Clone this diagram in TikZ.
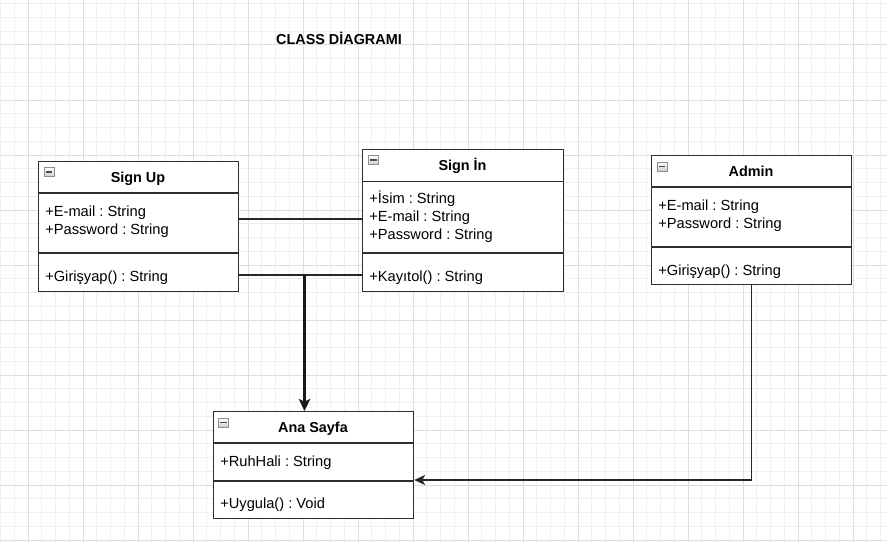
\documentclass[tikz,border=0pt]{standalone}
\usepackage{fontspec}
\setmainfont{Liberation Sans}
\usetikzlibrary{arrows.meta}
\definecolor{gridminor}{HTML}{F0F0F0}
\definecolor{gridmajor}{HTML}{DEDEDE}
\definecolor{boxline}{HTML}{2E2E2E}
\definecolor{iconfill}{HTML}{C9CDD4}
\definecolor{iconedge}{HTML}{8A8F96}
\frenchspacing
\begin{document}
\begin{tikzpicture}[x=0.75pt,y=-0.75pt,
  font=\fontsize{11}{13}\selectfont,
  classbox/.style 2 args={draw=boxline, line width=1pt, fill=white, anchor=north west,
     inner sep=0pt, minimum width=#1*0.75pt, minimum height=#2*0.75pt},
  sepline/.style={draw=boxline, line width=1pt},
  title/.style={font=\fontsize{10.8}{13}\selectfont\bfseries, anchor=base, inner sep=0pt},
  member/.style={anchor=base west, inner sep=0pt},
  iconbox/.style={draw=iconedge, line width=0.6pt, top color=white, bottom color=iconfill,
     anchor=north west, inner sep=0pt, minimum width=7.5pt, minimum height=7pt,
     path picture={\draw[black!70, line width=1.1pt]
       ([xshift=1.2pt]path picture bounding box.west) -- ([xshift=-1.2pt]path picture bounding box.east);}},
  conn/.style={draw=black!85, line width=1.05pt},
  bigarrow/.style={draw=black!90, line width=2.2pt, -{Stealth[length=9pt,width=8.5pt,inset=2pt]}},
  arr/.style={-{Stealth[length=8pt,width=7.5pt,inset=2pt]}}
]
\useasboundingbox (0,0) rectangle (887,542);
\fill[white] (0,0) rectangle (887,542);
% grid
\foreach \i in {0,...,64} {\draw[gridminor, line width=0.75pt] ({0.5+13.75*\i},0) -- ({0.5+13.75*\i},542);}
\foreach \j in {0,...,39} {\draw[gridminor, line width=0.75pt] (0,{3.75+13.75*\j}) -- (887,{3.75+13.75*\j});}
\foreach \i in {0,...,15} {\draw[gridmajor, line width=0.75pt] ({28+55*\i},0) -- ({28+55*\i},542);}
\foreach \j in {0,...,9} {\draw[gridmajor, line width=0.75pt] (0,{45+55*\j}) -- (887,{45+55*\j});}

% title
\node[title] (heading) at (339,45) {CLASS DİAGRAMI};

% Sign Up
\node[classbox={200}{130}] (signup) at (38,161) {};
\draw[sepline] (signup.west |- 0,193) -- (signup.east |- 0,193);
\draw[sepline] (signup.west |- 0,253) -- (signup.east |- 0,253);
\node[iconbox] (signupicon) at (43.5,167) {};
\node[title] (signuptitle) at (138,182.5) {Sign Up};
\node[member] (signupa1) at (45,216.5) {+E-mail : String};
\node[member] (signupa2) at (45,234.5) {+Password : String};
\node[member] (signupm1) at (45,281) {+Girişyap() : String};

% Sign In
\node[classbox={201}{142}] (signin) at (362,149) {};
\draw[sepline] (signin.west |- 0,181.5) -- (signin.east |- 0,181.5);
\draw[sepline] (signin.west |- 0,253) -- (signin.east |- 0,253);
\node[iconbox] (signinicon) at (368,155) {};
\node[title] (signintitle) at (462.5,170.5) {Sign İn};
\node[member] (signina1) at (369,203) {+İsim : String};
\node[member] (signina2) at (369,221) {+E-mail : String};
\node[member] (signina3) at (369,239) {+Password : String};
\node[member] (signinm1) at (369,281) {+Kayıtol() : String};

% Admin
\node[classbox={200}{129}] (admin) at (651,155) {};
\draw[sepline] (admin.west |- 0,187) -- (admin.east |- 0,187);
\draw[sepline] (admin.west |- 0,247) -- (admin.east |- 0,247);
\node[iconbox] (adminicon) at (656.5,161.5) {};
\node[title] (admintitle) at (751,176.5) {Admin};
\node[member] (admina1) at (658,210) {+E-mail : String};
\node[member] (admina2) at (658,228) {+Password : String};
\node[member] (adminm1) at (658,275) {+Girişyap() : String};

% Ana Sayfa
\node[classbox={200}{107}] (ana) at (213,411) {};
\draw[sepline] (ana.west |- 0,443) -- (ana.east |- 0,443);
\draw[sepline] (ana.west |- 0,481) -- (ana.east |- 0,481);
\node[iconbox] (anaicon) at (218,417.5) {};
\node[title] (anatitle) at (313,432.5) {Ana Sayfa};
\node[member] (anaa1) at (220,466.5) {+RuhHali : String};
\node[member] (anam1) at (220,508) {+Uygula() : Void};

% connectors
\draw[conn] (signup.east |- 0,219) -- (signin.west |- 0,219);
\draw[conn] (signup.east |- 0,275) -- (signin.west |- 0,275);
\coordinate (junction) at (304.5,275);
\draw[bigarrow] (junction) -- (junction |- ana.north);
\draw[conn, arr] (admin.south) -- (admin.south |- 0,480) -- (ana.east |- 0,480);
\end{tikzpicture}
\end{document}
